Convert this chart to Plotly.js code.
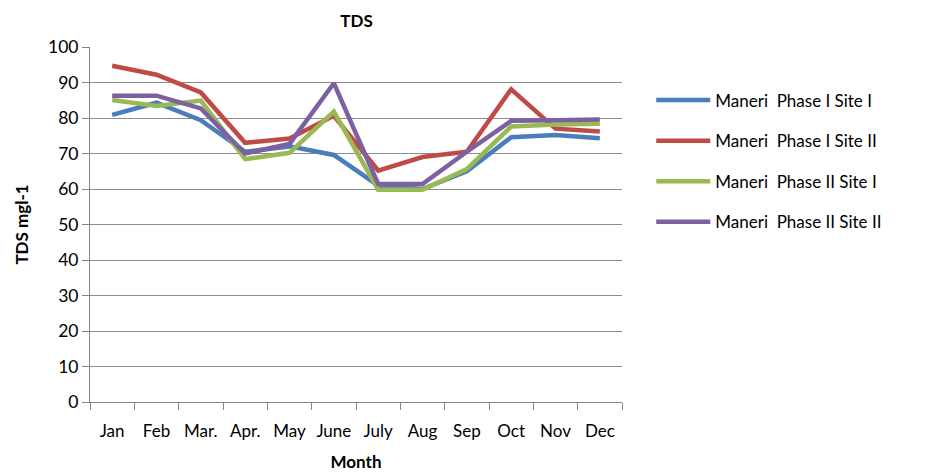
<!DOCTYPE html>
<html><head><meta charset="utf-8">
<script src="https://cdn.plot.ly/plotly-3.0.1.min.js"></script>
<style>body{margin:0;padding:0;background:#fff}#chart{width:931px;height:474px}</style>
</head><body><div id="chart"></div>
<script>
const months = ["Jan","Feb","Mar.","Apr.","May","June","July","Aug","Sep","Oct","Nov","Dec"];
const seriesNames = ["Maneri  Phase I Site I","Maneri  Phase I Site II","Maneri  Phase II Site I","Maneri  Phase II Site II"];
const p1s1 = [80.9, 84.3, 79.4, 70.5, 72.0, 69.6, 61.0, 60.0, 65.0, 74.6, 75.2, 74.3];
const p1s2 = [94.7, 92.2, 87.2, 73.0, 74.2, 80.6, 65.2, 69.0, 70.5, 88.1, 77.0, 76.2];
const p2s1 = [85.1, 83.4, 84.9, 68.4, 70.2, 81.8, 59.8, 59.8, 65.6, 77.6, 78.2, 78.4];
const p2s2 = [86.3, 86.3, 82.7, 70.0, 72.7, 89.8, 61.4, 61.4, 70.5, 79.2, 79.4, 79.6];
const allSeries = [p1s1, p1s2, p2s1, p2s2];
const colors = ["#4A7EBB","#BE4B48","#98B954","#7D60A0"];
const font = "Lato, 'Open Sans', sans-serif";
const traces = allSeries.map((s,i)=>({
  x: months, y: s, type:"scatter", mode:"lines", name: seriesNames[i],
  legendgroup: "g"+i,
  line:{color:colors[i], width:4.5}
}));
const layout = {
  width:931, height:474,
  margin:{l:90, r:309, t:47, b:72},
  paper_bgcolor:"#fff", plot_bgcolor:"#fff",
  font:{family:font, size:17, color:"#000"},
  title:{text:"<b>TDS</b>", font:{family:font, size:17, color:"#000"}, x:0.383, xanchor:"center", y:0.955, yanchor:"middle"},
  xaxis:{
    type:"category", range:[-0.5,11.5], showgrid:false, zeroline:false,
    showline:true, linecolor:"#868686", linewidth:1,
    ticks:"outside", tickson:"boundaries", ticklen:7, tickcolor:"#868686",
    ticklabelstandoff:14, tickangle:0,
    tickfont:{family:font, size:17, color:"#000"},
    title:{text:"<b>Month</b>", font:{family:font, size:17, color:"#000"}, standoff:15}
  },
  yaxis:{
    range:[0,100], dtick:10, showgrid:true, gridcolor:"#8c8c8c", gridwidth:1,
    zeroline:false, showline:true, linecolor:"#868686", linewidth:1,
    ticks:"outside", ticklen:7, tickcolor:"#868686",
    tickfont:{family:font, size:17.5, color:"#000"},
    title:{text:"<b>TDS mgl-1</b>", font:{family:font, size:17, color:"#000"}, standoff:15}
  },
  showlegend:true,
  legend:{x:1.055, xanchor:"left", y:0.9, yanchor:"top", tracegroupgap:15.5, itemwidth:54,
    font:{family:font, size:17, color:"#000"}, bgcolor:"rgba(0,0,0,0)"}
};
Plotly.newPlot("chart", traces, layout, {displayModeBar:false, staticPlot:true});
</script></body></html>
